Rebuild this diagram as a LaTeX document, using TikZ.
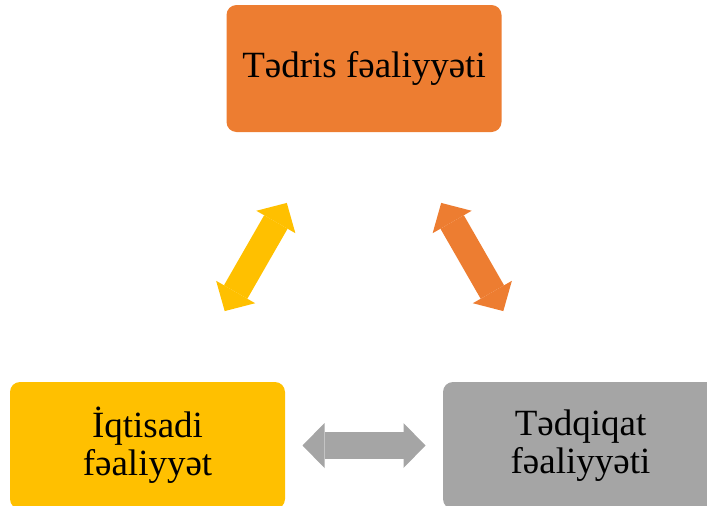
\documentclass[tikz,border=0pt]{standalone}
\usepackage{fontspec}
\setmainfont{Liberation Serif}
\usepackage{tikz}
\usetikzlibrary{arrows.meta}
\definecolor{tedrisOrange}{RGB}{237,125,49}
\definecolor{iqtisadiYellow}{RGB}{255,192,0}
\definecolor{tedqiqatGray}{RGB}{165,165,165}
\tikzset{
  actbox/.style={rounded corners=10pt, minimum width=275pt, minimum height=127pt,
    inner sep=0pt, align=center, font=\fontsize{37}{38}\selectfont},
  fatarrow/.style={line width=27pt, shorten >=155pt, shorten <=155pt,
    {Triangle[width=45pt,length=22pt,line width=0pt]}-{Triangle[width=45pt,length=22pt,line width=0pt]}}
}
\begin{document}
\begin{tikzpicture}[x=1pt,y=1pt,yscale=-1]
\useasboundingbox (0,0) rectangle (707,506);

% Boxes
\node [actbox, fill=tedrisOrange] (tedris) at (364,68.5) {Tədris fəaliyyəti};
\node [actbox, fill=iqtisadiYellow] (iqtisadi) at (147.5,445.5) {İqtisadi\\fəaliyyət};
\node [actbox, fill=tedqiqatGray] (tedqiqat) at (580.5,445.5) {Tədqiqat\\fəaliyyəti};

% Double arrows
\draw [fatarrow, draw=iqtisadiYellow, fill=iqtisadiYellow] (iqtisadi.center) -- (tedris.center);
\draw [fatarrow, draw=tedrisOrange, fill=tedrisOrange] (tedris.center) -- (tedqiqat.center);
\draw [fatarrow, draw=tedqiqatGray, fill=tedqiqatGray] (iqtisadi.center) -- (tedqiqat.center);

\end{tikzpicture}
\end{document}
